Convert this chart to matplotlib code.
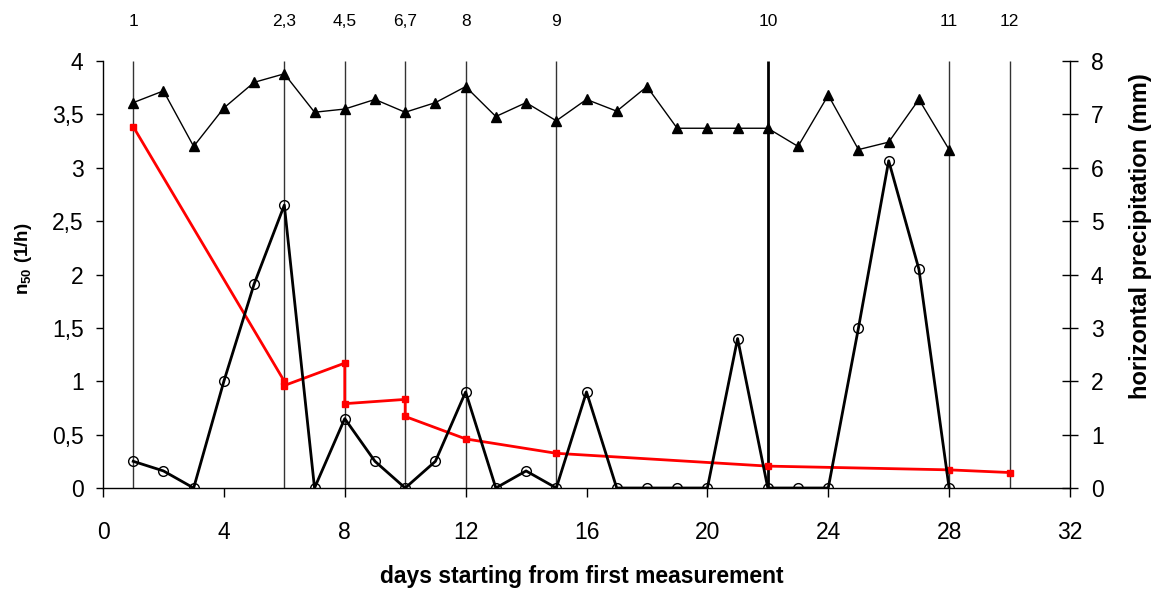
import matplotlib
matplotlib.use("Agg")
import matplotlib.pyplot as plt
from matplotlib.ticker import FuncFormatter
from matplotlib.transforms import blended_transform_factory

plt.rcParams['font.family'] = ['Liberation Sans', 'DejaVu Sans']
plt.rcParams['mathtext.fontset'] = 'custom'
plt.rcParams['mathtext.rm'] = 'Liberation Sans'
plt.rcParams['mathtext.bf'] = 'Liberation Sans:bold'

# --- data ---
days = list(range(1, 29))
triangles = [3.61, 3.72, 3.20, 3.56, 3.80, 3.88, 3.52, 3.55, 3.64, 3.52, 3.61, 3.76, 3.48, 3.61,
             3.44, 3.64, 3.53, 3.76, 3.37, 3.37, 3.37, 3.37, 3.20, 3.68, 3.17, 3.24, 3.64, 3.17]
precip = [0.5, 0.32, 0, 2.0, 3.82, 5.3, 0, 1.3, 0.5, 0, 0.5, 1.8, 0, 0.32,
          0, 1.8, 0, 0, 0, 0, 2.8, 0, 0, 0, 3.0, 6.13, 4.1, 0]
n50_days = [1, 6, 6, 8, 8, 10, 10, 12, 15, 22, 28, 30]
n50 = [3.385, 1.0, 0.96, 1.17, 0.79, 0.83, 0.67, 0.46, 0.325, 0.205, 0.17, 0.145]
meas_days = [1, 6, 8, 10, 12, 15, 22, 28, 30]
meas_labels = ["1", "2,3", "4,5", "6,7", "8", "9", "10", "11", "12"]
meas_widths = [1, 1, 1, 1, 1, 1, 2, 1, 1]

fig = plt.figure(figsize=(11.57, 5.90), dpi=100)
ax = fig.add_axes([103/1157, 1 - 488/590, (1070-103)/1157, (488-61)/590])
ax2 = ax.twinx()

trans = blended_transform_factory(ax.transData, fig.transFigure)
# vertical measurement lines
for d, lab, w in zip(meas_days, meas_labels, meas_widths):
    ax.vlines(d, 0, 4, color='#333333' if w == 1 else 'black', lw=w, zorder=1)
    ax.text(d, 1 - 22/590, lab, ha='center', va='center', fontsize=12.5,
            transform=trans, clip_on=False)

ax.plot(days, triangles, color='black', lw=1, marker='^', ms=7.5, zorder=3)
ax.plot(n50_days, n50, color='red', lw=2, marker='s', ms=5, zorder=4)
ax2.plot(days, precip, color='black', lw=2, marker='o', ms=7, mfc='none', mew=1, zorder=3)

ax.set_xlim(0, 32)
ax.set_ylim(0, 4)
ax2.set_ylim(0, 8)
ax.set_xticks(range(0, 33, 4))
ax.set_yticks([0, 0.5, 1, 1.5, 2, 2.5, 3, 3.5, 4])
ax2.set_yticks(range(0, 9))
ax.yaxis.set_major_formatter(FuncFormatter(lambda v, p: ('%g' % v).replace('.', ',')))

for a in (ax, ax2):
    a.spines['top'].set_visible(False)
ax.spines['right'].set_visible(False)
for s in ('left', 'bottom'):
    ax.spines[s].set_linewidth(1)
ax2.spines['right'].set_linewidth(1)
ax2.spines['left'].set_visible(False)
ax2.spines['bottom'].set_visible(False)

ax.tick_params(axis='y', direction='out', length=5, width=1, labelsize=16.5, pad=9)
ax.tick_params(axis='x', direction='out', length=6.5, width=1, labelsize=16.5, pad=17)
ax2.tick_params(axis='y', direction='inout', length=12, width=1, labelsize=16.5, pad=9)

fig.text(582/1157, 1 - 577/590, 'days starting from first measurement', ha='center', va='center',
         fontsize=16.5, fontweight='bold')
fig.text(24/1157, 1 - 259/590, r'n$_{\mathbf{50}}$ (1/h)', rotation=90, ha='center', va='center',
         fontsize=13.5, fontweight='bold')
fig.text(1140/1157, 1 - 236/590, 'horizontal precipitation (mm)', rotation=90, ha='center',
         va='center', fontsize=17, fontweight='bold')

fig.savefig('out.png', dpi=100)
